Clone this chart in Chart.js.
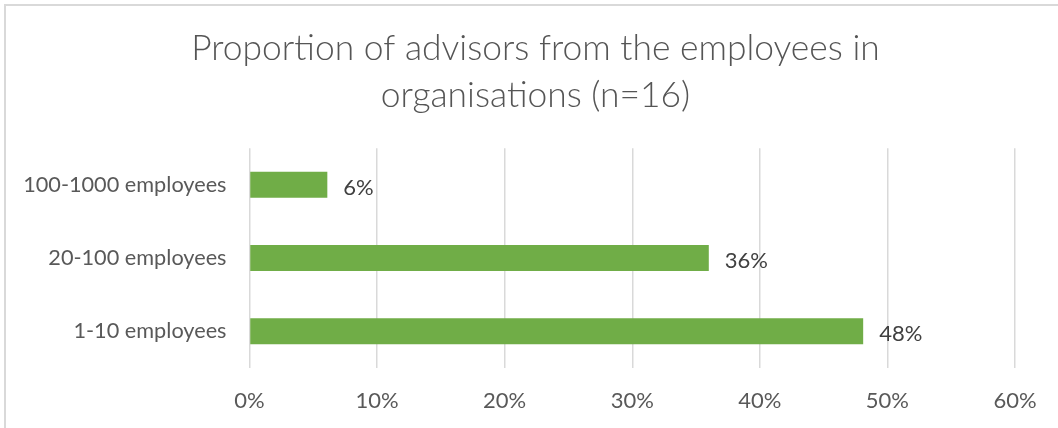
<!DOCTYPE html>
<html>
<head>
<meta charset="utf-8">
<script src="https://cdn.jsdelivr.net/npm/chart.js@4"></script>
<style>
  html, body { margin: 0; padding: 0; background: #fff; }
  #wrap { position: relative; width: 1058px; height: 428px; overflow: hidden; }
  #frame { position: absolute; left: 4px; top: 4px; width: 1100px; height: 500px;
           border-top: 2px solid #d9d9d9; border-left: 2px solid #d9d9d9; box-sizing: border-box; }
  canvas { position: absolute; left: 0; top: 0; }
</style>
</head>
<body>
<div id="wrap">
  <div id="frame"></div>
  <canvas id="miGrafico" width="1058" height="428"></canvas>
</div>
<script>
// datos
const categorias = ['100-1000 employees', '20-100 employees', '1-10 employees'];
const valores = [6.1, 36, 48.1];
const etiquetas = ['6%', '36%', '48%'];
const tituloLineas = ['Proportion of advisors from the employees in', 'organisations (n=16)'];
const ticksX = [0, 10, 20, 30, 40, 50, 60];

const fuente = 'Lato, "Open Sans", sans-serif';

// etiquetas al final de cada barra
const etiquetasBarras = {
    id: 'etiquetasBarras',
    afterDatasetsDraw(chart) {
        const ctx = chart.ctx;
        const meta = chart.getDatasetMeta(0);
        ctx.save();
        ctx.font = '22px ' + fuente;
        ctx.fillStyle = '#404040';
        ctx.textAlign = 'left';
        ctx.textBaseline = 'middle';
        meta.data.forEach((bar, i) => {
            ctx.fillText(etiquetas[i], bar.x + 16, bar.y + 3);
        });
        ctx.restore();
    }
};

// mover el titulo para que quede centrado en ~535px como el original
const moverTitulo = {
    id: 'moverTitulo',
    afterLayout(chart) {
        const t = chart.titleBlock;
        if (t) {
            t.left += 28;
            t.right += 28;
        }
    }
};

var ctx = document.getElementById('miGrafico').getContext('2d');
var myChart = new Chart(ctx, {
    type: 'bar',
    data: {
        labels: categorias,
        datasets: [{
            label: 'Proportion',
            data: valores,
            backgroundColor: '#70ad47',
            borderWidth: 0,
            barPercentage: 0.355,
            categoryPercentage: 1
        }]
    },
    plugins: [etiquetasBarras, moverTitulo],
    options: {
        indexAxis: 'y',
        responsive: false,
        animation: false,
        layout: {
            padding: { left: 0, right: 43, top: 0, bottom: 0 }
        },
        plugins: {
            legend: { display: false },
            tooltip: { enabled: false },
            title: {
                display: true,
                text: tituloLineas,
                color: '#555555',
                font: { family: fuente, size: 35.4, weight: 300, lineHeight: 1.33 },
                padding: { top: 25, bottom: 29 }
            }
        },
        scales: {
            x: {
                min: 0,
                max: 60,
                afterBuildTicks: (scale) => {
                    scale.ticks = ticksX.map(v => ({ value: v }));
                },
                afterFit: (scale) => { scale.height = 60; },
                grid: { color: '#d9d9d9', lineWidth: 1.5, drawTicks: false },
                border: { display: false },
                ticks: {
                    color: '#595959',
                    font: { family: fuente, size: 22 },
                    padding: 20,
                    callback: (v) => v + '%'
                }
            },
            y: {
                afterFit: (scale) => { scale.width = 249.5; },
                grid: { display: false },
                border: { display: false },
                ticks: {
                    color: '#595959',
                    font: { family: fuente, size: 21.7 },
                    padding: 15
                }
            }
        }
    }
});
</script>
</body>
</html>
